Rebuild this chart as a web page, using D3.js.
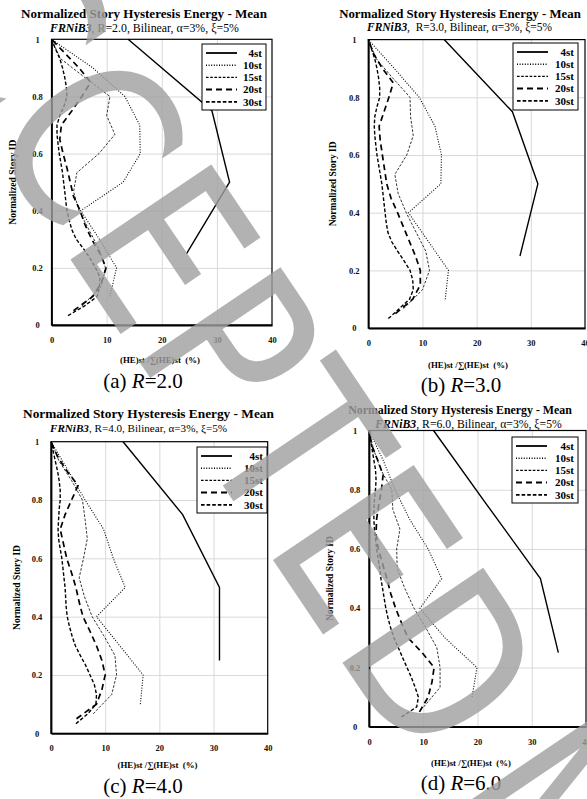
<!DOCTYPE html>
<meta charset="utf-8">
<script src="https://d3js.org/d3.v7.min.js"></script>
<style>
  body { margin: 0; background: #fff; }
  svg text { font-family: "Liberation Serif", "Times New Roman", serif; }
</style>
<div id="my_dataviz"></div>
<script>
// normalized story ID of each story, bottom to top
var storyId4 = [0.25, 0.5, 0.75, 1.0];
var storyId10 = [0.1, 0.2, 0.3, 0.4, 0.5, 0.6, 0.7, 0.8, 0.9, 1.0];
var storyId15 = [0.067, 0.133, 0.2, 0.267, 0.333, 0.4, 0.467, 0.533, 0.6, 0.667, 0.733, 0.8, 0.867, 0.933, 1.0];
var storyId20 = [0.05, 0.1, 0.15, 0.2, 0.25, 0.3, 0.35, 0.4, 0.45, 0.5, 0.55, 0.6, 0.65, 0.7, 0.75, 0.8, 0.85, 0.9, 0.95, 1.0];
var storyId30 = [0.033, 0.067, 0.1, 0.133, 0.167, 0.2, 0.233, 0.267, 0.3, 0.333, 0.367, 0.4, 0.433, 0.467, 0.5,
                 0.533, 0.567, 0.6, 0.633, 0.667, 0.7, 0.733, 0.767, 0.8, 0.833, 0.867, 0.9, 0.933, 0.967, 1.0];

// (HE)st / sum(HE)st in %, bottom to top
// (a) R=2.0
var r2_4st = [24.5, 32.3, 29.1, 13.9];
var r2_10st = [10.6, 11.8, 8.7, 5.3, 13.0, 16.1, 16.0, 13.3, 7.5, 0];
var r2_15st = [5.5, 9.0, 9.8, 8.6, 6.8, 5.0, 4.0, 4.6, 8.6, 11.5, 10.0, 10.6, 6.0, 1.6, 0];
var r2_20st = [4.0, 7.5, 9.1, 9.9, 8.8, 7.3, 6.1, 5.2, 4.0, 3.4, 2.8, 2.1, 1.5, 1.8, 3.7, 5.5, 7.1, 5.0, 2.5, 0];
var r2_30st = [3.0, 6.0, 8.3, 8.7, 8.8, 8.0, 7.0, 5.8, 4.5, 3.7, 3.2, 2.8, 2.6, 2.4, 2.2,
               2.0, 1.7, 1.4, 1.2, 1.0, 1.0, 1.5, 2.3, 2.8, 2.7, 2.4, 2.0, 1.5, 0.7, 0];
// (b) R=3.0
var r3_4st = [28.0, 31.3, 26.6, 14.0];
var r3_10st = [14.2, 14.8, 11.1, 7.4, 13.4, 13.5, 12.3, 9.4, 4.8, 0];
var r3_15st = [6.5, 10.0, 11.3, 10.6, 8.8, 7.0, 5.5, 4.9, 7.1, 8.3, 7.8, 7.7, 4.5, 1.5, 0];
var r3_20st = [5.0, 8.2, 9.6, 9.6, 8.7, 7.6, 6.5, 5.4, 4.2, 3.4, 3.0, 2.6, 2.2, 2.0, 2.9, 3.8, 4.6, 2.6, 1.0, 0];
var r3_30st = [3.7, 5.7, 7.6, 8.3, 8.2, 7.7, 6.6, 5.4, 4.3, 3.6, 3.3, 3.1, 2.9, 2.7, 2.5,
               2.2, 1.9, 1.6, 1.4, 1.2, 1.1, 1.2, 1.6, 2.1, 2.1, 1.9, 1.6, 1.2, 0.6, 0];
// (c) R=4.0
var r4_4st = [31.1, 31.1, 24.3, 13.3];
var r4_10st = [16.5, 17.0, 12.7, 8.4, 13.7, 11.5, 9.7, 6.3, 3.2, 0];
var r4_15st = [7.8, 11.2, 12.1, 11.8, 9.8, 7.6, 6.2, 5.2, 6.0, 6.7, 6.3, 5.8, 3.8, 1.5, 0];
var r4_20st = [4.7, 8.4, 9.4, 10.0, 9.4, 8.4, 7.2, 5.9, 5.2, 4.6, 3.8, 2.9, 2.3, 1.7, 2.6, 3.8, 5.0, 2.9, 1.2, 0];
var r4_30st = [4.6, 6.8, 8.3, 8.4, 8.0, 7.2, 6.4, 5.4, 4.5, 3.9, 3.4, 3.0, 2.8, 2.7, 2.6,
               2.4, 2.2, 2.0, 1.7, 1.4, 1.3, 1.4, 1.5, 1.7, 1.7, 1.5, 1.2, 0.8, 0.4, 0];
// (d) R=6.0
var r6_4st = [34.9, 31.6, 21.7, 11.9];
var r6_10st = [19.0, 19.9, 14.0, 9.4, 13.4, 10.9, 7.5, 4.8, 2.6, 0];
var r6_15st = [10.1, 13.1, 13.1, 12.5, 10.5, 8.3, 6.6, 5.2, 5.1, 5.7, 4.4, 4.2, 2.2, 0.9, 0];
var r6_20st = [9.3, 10.9, 11.6, 12.0, 9.8, 7.2, 6.0, 4.9, 4.0, 3.3, 2.5, 1.7, 1.3, 1.4, 1.8, 2.3, 2.6, 1.6, 0.5, 0];
var r6_30st = [6.0, 8.8, 9.1, 8.5, 7.8, 7.0, 6.2, 5.4, 4.6, 4.0, 3.5, 3.1, 2.8, 2.5, 2.2,
               2.0, 1.7, 1.4, 1.2, 1.0, 0.9, 0.9, 1.0, 1.2, 1.3, 1.2, 0.9, 0.6, 0.3, 0];

var seriesNames = ["4st", "10st", "15st", "20st", "30st"];
var storyIds = [storyId4, storyId10, storyId15, storyId20, storyId30];
var xTicks = [0, 10, 20, 30, 40];
var yTicks = [0, 0.2, 0.4, 0.6, 0.8, 1];

// line looks, same order as seriesNames
var lineStyles = [
  {dash: null, w: 1.4},
  {dash: "1,1.6", w: 1.1},
  {dash: "2.6,1.6", w: 0.8},
  {dash: "6,4", w: 1.7},
  {dash: "3.6,2", w: 1.4}
];

// layout of the four panels (pixels)
var panels = [
  {tag: "a", r: "2.0", sub: ", R=2.0, Bilinear, \u03b1=3%, \u03be=5%",
   values: [r2_4st, r2_10st, r2_15st, r2_20st, r2_30st],
   left: 51.5, right: 272, top: 39.3, bottom: 325,
   titleX: 144, titleY: 18, titleW: 246, subX: 144.5, subY: 32, subW: 189,
   legend: {x: 202, y: 44, w: 64, h: 66},
   yLabX: 12.5, xLabX: 160, xLabY: 363, capX: 143, capY: 388},
  {tag: "b", r: "3.0", sub: ",  R=3.0, Bilinear, \u03b1=3%, \u03be=5%",
   values: [r3_4st, r3_10st, r3_15st, r3_20st, r3_30st],
   left: 368.3, right: 585, top: 39.6, bottom: 328.1,
   titleX: 460, titleY: 17.5, titleW: 242, subX: 459.5, subY: 30.5, subW: 185,
   legend: {x: 513, y: 43, w: 65, h: 67},
   yLabX: 333, xLabX: 468, xLabY: 367.5, capX: 461, capY: 391.5},
  {tag: "c", r: "4.0", sub: ", R=4.0, Bilinear, \u03b1=3%, \u03be=5%",
   values: [r4_4st, r4_10st, r4_15st, r4_20st, r4_30st],
   left: 51, right: 267.7, top: 441.7, bottom: 733.3,
   titleX: 148.5, titleY: 418, titleW: 251, subX: 138.5, subY: 431.5, subW: 177,
   legend: {x: 197, y: 447, w: 70, h: 66},
   yLabX: 17, xLabX: 157.5, xLabY: 768, capX: 143, capY: 792.5},
  {tag: "d", r: "6.0", sub: ", R=6.0, Bilinear, \u03b1=3%, \u03be=5%",
   values: [r6_4st, r6_10st, r6_15st, r6_20st, r6_30st],
   left: 369, right: 586, top: 430.5, bottom: 726.7,
   titleX: 460, titleY: 413.5, titleW: 224, subX: 468.5, subY: 428, subW: 187,
   legend: {x: 512, y: 437, w: 66, h: 66},
   yLabX: 330, xLabX: 471, xLabY: 765.5, capX: 461, capY: 789.5}
];

var svg = d3.select("#my_dataviz")
  .append("svg")
    .attr("width", 587)
    .attr("height", 799);

svg.append("rect").attr("width", 587).attr("height", 799).attr("fill", "#fff");

// squeeze a text to a measured width by changing its font size
function fitWidth(sel, size, target) {
  sel.style("font-size", size + "px");
  var w = sel.node().getComputedTextLength();
  if (w > 0) sel.style("font-size", (size * target / w) + "px");
}

panels.forEach(function(p) {
  var g = svg.append("g");

  var x = d3.scaleLinear().domain([0, 40]).range([p.left, p.right]);
  var y = d3.scaleLinear().domain([0, 1]).range([p.bottom, p.top]);

  // grid
  g.append("g")
    .attr("transform", "translate(0," + p.bottom + ")")
    .call(d3.axisBottom(x).tickValues([10, 20, 30]).tickSize(-(p.bottom - p.top)).tickFormat(""))
    .call(function(a) { a.select(".domain").remove(); })
    .selectAll("line").attr("stroke", "#d9d9d9").attr("stroke-width", 1);
  g.append("g")
    .attr("transform", "translate(" + p.left + ",0)")
    .call(d3.axisLeft(y).tickValues([0.2, 0.4, 0.6, 0.8]).tickSize(-(p.right - p.left)).tickFormat(""))
    .call(function(a) { a.select(".domain").remove(); })
    .selectAll("line").attr("stroke", "#d9d9d9").attr("stroke-width", 1);

  // frame
  g.append("rect")
    .attr("x", p.left).attr("y", p.top)
    .attr("width", p.right - p.left).attr("height", p.bottom - p.top)
    .attr("fill", "none").attr("stroke", "#000").attr("stroke-width", 1.2);

  // axes
  var xa = g.append("g")
    .attr("transform", "translate(0," + p.bottom + ")")
    .call(d3.axisBottom(x).tickValues(xTicks).tickSize(0).tickPadding(12));
  xa.select(".domain").attr("stroke", "#000").attr("stroke-width", 1.8);
  xa.selectAll("text")
    .style("font-family", "Liberation Serif").style("font-weight", "bold")
    .style("font-size", "8.5px").attr("fill", "#111");

  var ya = g.append("g")
    .attr("transform", "translate(" + p.left + ",0)")
    .call(d3.axisLeft(y).tickValues(yTicks).tickSize(0).tickFormat(d3.format("")));
  ya.select(".domain").attr("stroke", "#000").attr("stroke-width", 1.8);
  ya.selectAll("text")
    .attr("x", -14).attr("text-anchor", "middle")
    .style("font-family", "Liberation Serif").style("font-weight", "bold")
    .style("font-size", "8.5px").attr("fill", "#111");

  // series
  var line = d3.line()
    .x(function(d) { return x(d[0]); })
    .y(function(d) { return y(d[1]); });

  p.values.forEach(function(vals, i) {
    var pts = vals.map(function(v, k) { return [v, storyIds[i][k]]; });
    g.append("path")
      .datum(pts)
      .attr("d", line)
      .attr("fill", "none")
      .attr("stroke", "#000")
      .attr("stroke-width", lineStyles[i].w)
      .attr("stroke-dasharray", lineStyles[i].dash);
  });

  // legend
  var L = p.legend;
  var lg = g.append("g");
  lg.append("rect")
    .attr("x", L.x).attr("y", L.y).attr("width", L.w).attr("height", L.h)
    .attr("fill", "#fff").attr("stroke", "#000").attr("stroke-width", 1);
  seriesNames.forEach(function(name, i) {
    var ry = L.y + 9 + i * 12.2;
    lg.append("line")
      .attr("x1", L.x + 4).attr("x2", L.x + 35)
      .attr("y1", ry).attr("y2", ry)
      .attr("stroke", "#000")
      .attr("stroke-width", i == 0 ? 1.8 : lineStyles[i].w + 0.3)
      .attr("stroke-dasharray", lineStyles[i].dash);
    lg.append("text")
      .attr("x", L.x + L.w - 4).attr("y", ry + 3.8)
      .attr("text-anchor", "end")
      .style("font-weight", "bold").style("font-size", "11px")
      .text(name);
  });

  // titles
  var t = g.append("text")
    .attr("x", p.titleX).attr("y", p.titleY)
    .attr("text-anchor", "middle")
    .style("font-weight", "bold")
    .text("Normalized Story Hysteresis Energy - Mean");
  fitWidth(t, 12.5, p.titleW);

  var s = g.append("text")
    .attr("x", p.subX).attr("y", p.subY)
    .attr("text-anchor", "middle")
    .style("white-space", "pre");
  s.append("tspan").style("font-weight", "bold").style("font-style", "italic").text("FRNiB3");
  s.append("tspan").text(p.sub);
  fitWidth(s, 10.5, p.subW);

  // axis titles
  g.append("text")
    .attr("transform", "translate(" + p.yLabX + "," + ((p.top + p.bottom) / 2) + ") rotate(-90)")
    .attr("text-anchor", "middle").attr("dy", "0.35em")
    .style("font-weight", "bold").style("font-size", "9.5px")
    .text("Normalized Story ID");

  g.append("text")
    .attr("x", p.xLabX).attr("y", p.xLabY)
    .attr("text-anchor", "middle")
    .style("font-weight", "bold").style("font-size", "8.8px")
    .style("white-space", "pre")
    .text("(HE)st /\u2211(HE)st  (%)");

  // caption
  var c = g.append("text")
    .attr("x", p.capX).attr("y", p.capY)
    .attr("text-anchor", "middle")
    .style("font-size", "21px");
  c.append("tspan").text("(" + p.tag + ") ");
  c.append("tspan").style("font-style", "italic").text("R");
  c.append("tspan").text("=" + p.r);
});

// watermark across the page
var wm = svg.append("text")
  .attr("transform", "translate(-166,-91) rotate(56) scale(0.82,1)")
  .style("font-family", "DejaVu Sans")
  .style("font-size", "233px")
  .style("letter-spacing", "4px")
  .attr("fill", "#a0a0a0")
  .attr("opacity", 0.8);
wm.append("tspan").text("ACCEPTED");
wm.append("tspan").attr("dx", 43).text("MANUSCRIPT");
</script>
